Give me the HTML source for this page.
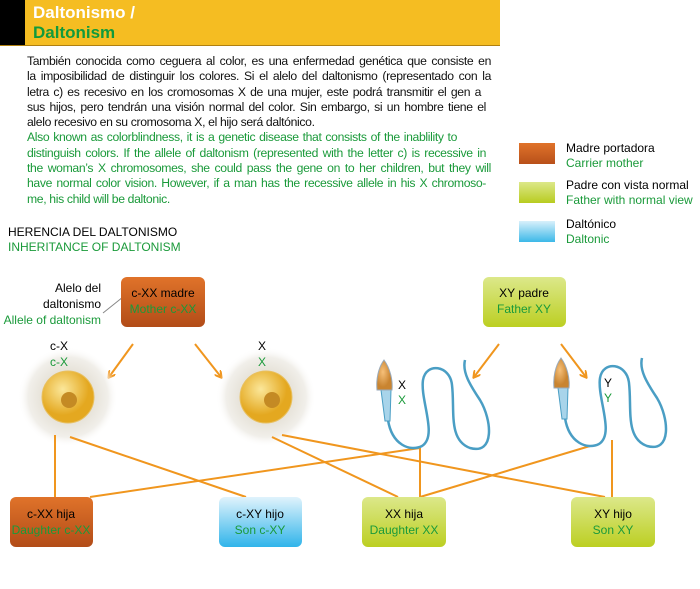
<!DOCTYPE html>
<html><head><meta charset="utf-8"><style>
body{margin:0;width:700px;height:589px;background:#fff;position:relative;overflow:hidden;font-family:"Liberation Sans",sans-serif}
.t{position:absolute;white-space:nowrap}
.p{position:absolute;left:27px;top:54px;width:464px;font-size:12.2px;line-height:15.3px;letter-spacing:-0.35px;color:#111}
.p div{white-space:nowrap;text-align:justify;text-align-last:justify;height:15.3px}
.p div.l{text-align-last:left}
.g{color:#1a9a3a}
</style></head><body>
<div style="position:absolute;left:0;top:0;width:500px;height:45px;background:#f5bd22;border-bottom:1px solid #b08010"></div>
<div style="position:absolute;left:0;top:0;width:25px;height:45px;background:#000"></div>
<div class="t" style="left:33px;top:3px;font-size:17px;font-weight:bold;color:#fff">Daltonismo /</div>
<div class="t" style="left:33px;top:23px;font-size:17px;font-weight:bold;color:#119a3c">Daltonism</div>
<div class="p">
<div>También conocida como ceguera al color, es una enfermedad genética que consiste en</div>
<div>la imposibilidad de distinguir los colores. Si el alelo del daltonismo (representado con la</div>
<div style="width:454px">letra c) es recesivo en los cromosomas X de una mujer, este podrá transmitir el gen a</div>
<div style="width:459px">sus hijos, pero tendrán una visión normal del color. Sin embargo, si un hombre tiene el</div>
<div class="l">alelo recesivo en su cromosoma X, el hijo será daltónico.</div>
<div class="g" style="width:430px">Also known as colorblindness, it is a genetic disease that consists of the inablility to</div>
<div class="g" style="width:459px">distinguish colors. If the allele of daltonism (represented with the letter c) is recessive in</div>
<div class="g">the woman’s X chromosomes, she could pass the gene on to her children, but they will</div>
<div class="g" style="width:459px">have normal color vision. However, if a man has the recessive allele in his X chromoso-</div>
<div class="g l">me, his child will be daltonic.</div>
</div>
<div style="position:absolute;left:519px;top:143px;width:36px;height:21px;background:linear-gradient(#e0732a,#b8501a)"></div>
<div style="position:absolute;left:519px;top:182px;width:36px;height:21px;background:linear-gradient(#dce88a,#b8cc20)"></div>
<div style="position:absolute;left:519px;top:221px;width:36px;height:21px;background:linear-gradient(#d8f0fb,#3cb8e8)"></div>
<div class="t" style="left:566px;top:141px;font-size:12px;line-height:15px">Madre portadora<br><span class="g">Carrier mother</span></div>
<div class="t" style="left:566px;top:178px;font-size:12px;line-height:15px">Padre con vista normal<br><span class="g">Father with normal view</span></div>
<div class="t" style="left:566px;top:217px;font-size:12px;line-height:15px">Daltónico<br><span class="g">Daltonic</span></div>
<div class="t" style="left:8px;top:225px;font-size:12px;line-height:15px">HERENCIA DEL DALTONISMO<br><span class="g">INHERITANCE OF DALTONISM</span></div>
<div class="t" style="left:0;width:101px;text-align:right;top:280px;font-size:12px;line-height:16px">Alelo del<br>daltonismo<br><span class="g">Allele of daltonism</span></div>
<svg width="700" height="589" style="position:absolute;left:0;top:0">
<defs>
<radialGradient id="glow"><stop offset="0.5" stop-color="#e6e2d8"/><stop offset="0.8" stop-color="#f1efea"/><stop offset="1" stop-color="#fff" stop-opacity="0"/></radialGradient>
<radialGradient id="yolk" cx="0.4" cy="0.35"><stop offset="0" stop-color="#fbe79a"/><stop offset="1" stop-color="#e4a820"/></radialGradient>
<radialGradient id="head" cx="0.4" cy="0.4"><stop offset="0" stop-color="#f6c07a"/><stop offset="1" stop-color="#c98430"/></radialGradient>
<marker id="a" markerWidth="8" markerHeight="8" refX="6" refY="4" orient="auto" markerUnits="userSpaceOnUse"><path d="M0,0 L7,4 L0,8" fill="none" stroke="#f0961e" stroke-width="2"/></marker>
</defs>
<line x1="103" y1="313" x2="128" y2="293" stroke="#888" stroke-width="1"/>
<g stroke="#f0961e" stroke-width="2" fill="none" marker-end="url(#a)">
<line x1="133" y1="344" x2="109" y2="377"/><line x1="195" y1="344" x2="221" y2="377"/>
<line x1="499" y1="344" x2="474" y2="377"/><line x1="561" y1="344" x2="586" y2="377"/>
</g>
<circle cx="68" cy="397" r="50" fill="url(#glow)"/>
<circle cx="266" cy="397" r="50" fill="url(#glow)"/>
<g stroke="#f0961e" stroke-width="2">
<line x1="55" y1="435" x2="55" y2="497"/><line x1="70" y1="437" x2="246" y2="497"/>
<line x1="420" y1="448" x2="90" y2="497"/><line x1="272" y1="437" x2="398" y2="497"/>
<line x1="282" y1="435" x2="605" y2="497"/><line x1="420" y1="448" x2="420" y2="497"/>
<line x1="590" y1="446" x2="420" y2="497"/><line x1="612" y1="440" x2="612" y2="497"/>
</g>
<circle cx="68" cy="397" r="26" fill="url(#yolk)" stroke="#e8c060"/><circle cx="69" cy="400" r="8" fill="#c48a24"/>
<circle cx="266" cy="397" r="26" fill="url(#yolk)" stroke="#e8c060"/><circle cx="272" cy="400" r="8" fill="#c48a24"/>
<g id="sp">
<path d="M388,420 C392,445 410,452 422,446 C438,436 420,400 423,380 C426,362 450,365 452,385 C455,410 448,440 470,448 C495,455 492,420 480,400 C470,385 462,372 465,360" fill="none" stroke="#4a9ec4" stroke-width="2.5"/>
<path d="M381,390 L391,390 L390,421 L385,421 Z" fill="#a8d4ea" stroke="#4a9ec4"/>
<path d="M384,360 C378,368 376,380 377,390 L392,390 C393,380 390,368 384,360 Z" fill="url(#head)" stroke="#9ab"/>
</g>
<use href="#sp" x="177" y="-2"/>
<g font-family="Liberation Sans" font-size="12" text-anchor="middle">
<text x="59" y="350">c-X</text><text x="59" y="366" fill="#1a9a3a">c-X</text>
<text x="262" y="350">X</text><text x="262" y="366" fill="#1a9a3a">X</text>
<text x="402" y="389">X</text><text x="402" y="404" fill="#1a9a3a">X</text>
<text x="608" y="387">Y</text><text x="608" y="402" fill="#1a9a3a">Y</text>
</g>
<defs>
<linearGradient id="o" x2="0" y2="1"><stop offset="0" stop-color="#e0732a"/><stop offset="1" stop-color="#b24c18"/></linearGradient>
<linearGradient id="y" x2="0" y2="1"><stop offset="0" stop-color="#dce88a"/><stop offset="1" stop-color="#bccf22"/></linearGradient>
<linearGradient id="b" x2="0" y2="1"><stop offset="0" stop-color="#e0f3fc"/><stop offset="1" stop-color="#30b4ea"/></linearGradient>
</defs>
<g font-family="Liberation Sans" font-size="12" text-anchor="middle">
<rect x="121" y="277" width="84" height="50" rx="6" fill="url(#o)"/><text x="163" y="297">c-XX madre</text><text x="163" y="313" fill="#1a9a3a">Mother c-XX</text>
<rect x="483" y="277" width="83" height="50" rx="6" fill="url(#y)"/><text x="524" y="297">XY padre</text><text x="524" y="313" fill="#1a9a3a">Father XY</text>
<rect x="10" y="497" width="83" height="50" rx="6" fill="url(#o)"/><text x="51" y="518">c-XX hija</text><text x="51" y="534" fill="#1a9a3a">Daughter c-XX</text>
<rect x="219" y="497" width="83" height="50" rx="6" fill="url(#b)"/><text x="260" y="518">c-XY hijo</text><text x="260" y="534" fill="#1a9a3a">Son c-XY</text>
<rect x="362" y="497" width="84" height="50" rx="6" fill="url(#y)"/><text x="404" y="518">XX hija</text><text x="404" y="534" fill="#1a9a3a">Daughter XX</text>
<rect x="571" y="497" width="84" height="50" rx="6" fill="url(#y)"/><text x="613" y="518">XY hijo</text><text x="613" y="534" fill="#1a9a3a">Son XY</text>
</g>
</svg>
</body></html>
